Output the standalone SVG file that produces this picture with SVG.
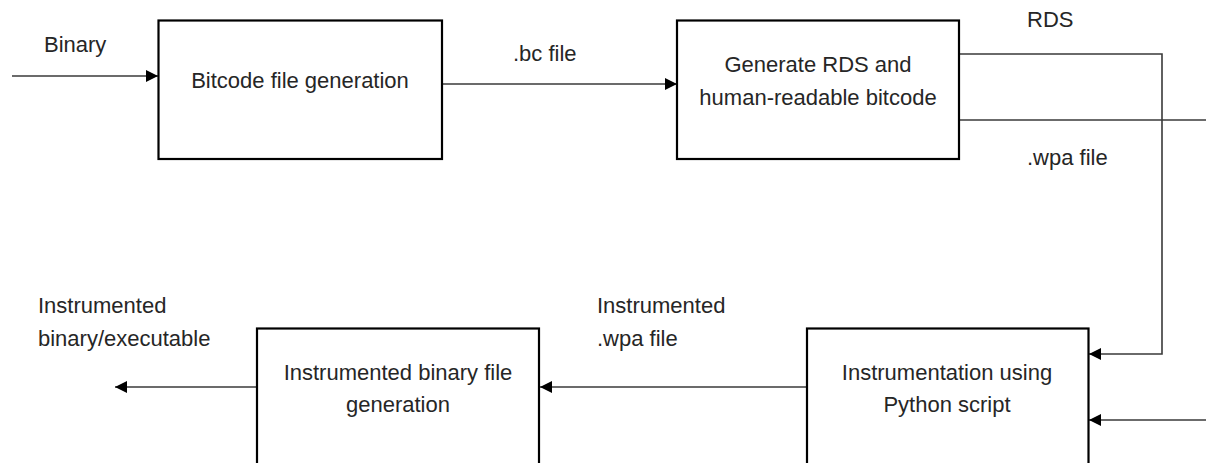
<svg xmlns="http://www.w3.org/2000/svg" width="1206" height="463" viewBox="0 0 1206 463">
  <style>
    .box { fill: #ffffff; stroke: #000000; stroke-width: 2.2; }
    .txt { font-family: "Liberation Sans", Arial, sans-serif; font-size: 22px; fill: #262626; }
    .mid { text-anchor: middle; }
    .wire { fill: none; stroke: #3a3a3a; stroke-width: 1.6; }
    .arrow { marker-end: url(#head); }
  </style>
  <defs>
    <marker id="head" viewBox="0 0 12 12" refX="12" refY="6" markerWidth="12" markerHeight="12" markerUnits="userSpaceOnUse" orient="auto">
      <path d="M0,0 L12,6 L0,12 z" fill="#000000"/>
    </marker>
  </defs>

  <rect width="1206" height="463" fill="#ffffff"/>

  <!-- connectors -->
  <g id="connectors">
    <line class="wire arrow" x1="12" y1="76" x2="158" y2="76"/>
    <line class="wire arrow" x1="442" y1="84" x2="677" y2="84"/>
    <polyline class="wire arrow" points="959,54 1162,54 1162,354 1089,354"/>
    <line class="wire" x1="959" y1="120" x2="1206" y2="120"/>
    <line class="wire arrow" x1="1206" y1="420" x2="1089" y2="420"/>
    <line class="wire arrow" x1="807" y1="387" x2="540" y2="387"/>
    <line class="wire arrow" x1="257" y1="387" x2="115" y2="387"/>
  </g>

  <!-- connector labels -->
  <g id="labels" class="txt">
    <text x="44" y="52">Binary</text>
    <text x="513" y="61">.bc file</text>
    <text x="1027" y="27">RDS</text>
    <text x="1027" y="165">.wpa file</text>
    <text x="597" y="313">Instrumented</text>
    <text x="597" y="346">.wpa file</text>
    <text x="38" y="313">Instrumented</text>
    <text x="38" y="346">binary/executable</text>
  </g>

  <g id="bitcode-gen">
    <rect class="box" x="158.5" y="20.5" width="283.5" height="138.5"/>
    <text class="txt mid" x="300" y="88">Bitcode file generation</text>
  </g>

  <g id="rds-gen">
    <rect class="box" x="677" y="20.5" width="282" height="138.5"/>
    <text class="txt mid" x="818" y="72">Generate RDS and</text>
    <text class="txt mid" x="818" y="105">human-readable bitcode</text>
  </g>

  <g id="instrumentation">
    <rect class="box" x="807" y="328.5" width="281.5" height="160"/>
    <text class="txt mid" x="947" y="380">Instrumentation using</text>
    <text class="txt mid" x="947" y="412">Python script</text>
  </g>

  <g id="binary-gen">
    <rect class="box" x="257" y="328.5" width="282" height="160"/>
    <text class="txt mid" x="398" y="380">Instrumented binary file</text>
    <text class="txt mid" x="398" y="412">generation</text>
  </g>
</svg>
